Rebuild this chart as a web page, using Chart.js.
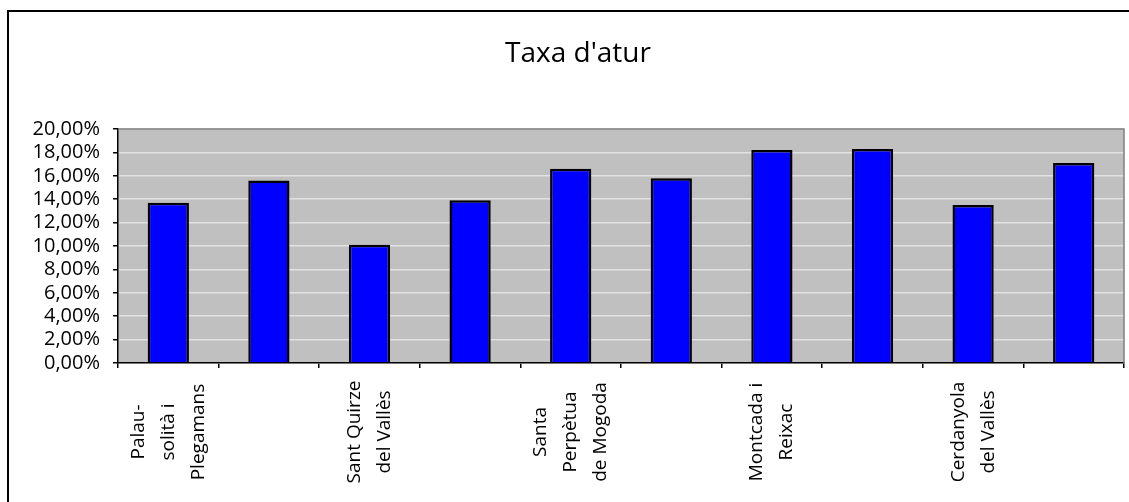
<!DOCTYPE html>
<html>
<head>
<meta charset="utf-8">
<script src="https://cdn.jsdelivr.net/npm/chart.js@4/dist/chart.umd.min.js"></script>
<style>
  body { margin: 0; background: #fff; }
  #frame { position: absolute; left: 7px; top: 10px; width: 1200px; height: 600px; border: 2px solid #000; }
  canvas { position: absolute; left: 0; top: 0; }
</style>
</head>
<body>
<div id="frame"></div>
<canvas id="chart" width="1129" height="502"></canvas>
<script>
const title = "Taxa d'atur";

// only every other category shows its name in the original
const municipis = [
  ["Palau-", "solità i", "Plegamans"],
  [],
  ["Sant Quirze", "del Vallès"],
  [],
  ["Santa", "Perpètua", "de Mogoda"],
  [],
  ["Montcada i", "Reixac"],
  [],
  ["Cerdanyola", "del Vallès"],
  []
];

const taxaAtur = [13.7, 15.6, 10.1, 13.9, 16.6, 15.8, 18.2, 18.3, 13.5, 17.1];

const yMin = 0;
const yMax = 20;
const yStep = 2;

// grey plot area with the darker edge on top and right
const plotBg = {
  id: "plotBg",
  beforeDraw(chart) {
    const { ctx, chartArea: a } = chart;
    ctx.save();
    ctx.fillStyle = "#c0c0c0";
    ctx.fillRect(a.left, a.top, a.right - a.left, a.bottom - a.top);
    ctx.restore();
  },
  afterDraw(chart) {
    const { ctx, chartArea: a } = chart;
    ctx.save();
    ctx.strokeStyle = "#808080";
    ctx.lineWidth = 1.5;
    ctx.beginPath();
    ctx.moveTo(a.left, a.top);
    ctx.lineTo(a.right, a.top);
    ctx.lineTo(a.right, a.bottom);
    ctx.stroke();
    ctx.restore();
  }
};

const titleText = {
  id: "titleText",
  afterDraw(chart) {
    const ctx = chart.ctx;
    ctx.save();
    ctx.font = '28px "Open Sans"';
    ctx.fillStyle = "#000";
    ctx.textAlign = "center";
    ctx.textBaseline = "alphabetic";
    ctx.fillText(title, 578, 61.5);
    ctx.restore();
  }
};

// rotated category names, lines centred on each other like Excel does
const xLabels = {
  id: "xLabels",
  afterDraw(chart) {
    const ctx = chart.ctx;
    const xs = chart.scales.x;
    ctx.save();
    ctx.font = '19px "Open Sans"';
    ctx.fillStyle = "#000";
    ctx.textAlign = "center";
    ctx.textBaseline = "middle";
    municipis.forEach((lines, i) => {
      if (!lines.length) return;
      const x = xs.getPixelForValue(i);
      ctx.save();
      ctx.translate(x, 432);
      ctx.rotate(-Math.PI / 2);
      lines.forEach((l, j) => {
        ctx.fillText(l, 0, (j - (lines.length - 1) / 2) * 30);
      });
      ctx.restore();
    });
    ctx.restore();
  }
};

new Chart(document.getElementById("chart"), {
  type: "bar",
  data: {
    labels: municipis,
    datasets: [{
      label: title,
      data: taxaAtur,
      backgroundColor: "#0000ff",
      borderColor: "#000",
      borderWidth: 2.5,
      barPercentage: 0.41,
      categoryPercentage: 1
    }]
  },
  options: {
    responsive: false,
    devicePixelRatio: 1,
    animation: false,
    layout: { padding: { left: 0, top: 129, right: 5, bottom: 0 } },
    plugins: {
      legend: { display: false },
      tooltip: { enabled: false }
    },
    scales: {
      x: {
        afterFit(scale) { scale.height = 139; },
        ticks: { display: false },
        grid: { drawOnChartArea: false, offset: true, tickLength: 5, tickColor: "#000", color: "#000", lineWidth: 1.5 },
        border: { color: "#000", width: 1.5 }
      },
      y: {
        min: yMin,
        max: yMax,
        afterFit(scale) { scale.width = 118; },
        ticks: {
          stepSize: yStep,
          autoSkip: false,
          padding: 13,
          color: "#000",
          font: { family: "Open Sans", size: 20 },
          callback: v => v.toFixed(2).replace(".", ",") + "%"
        },
        grid: { color: "#e2e2e2", tickColor: "#000", tickLength: 5, lineWidth: 1.5 },
        border: { color: "#000", width: 1.5 }
      }
    }
  },
  plugins: [plotBg, titleText, xLabels]
});
</script>
</body>
</html>
